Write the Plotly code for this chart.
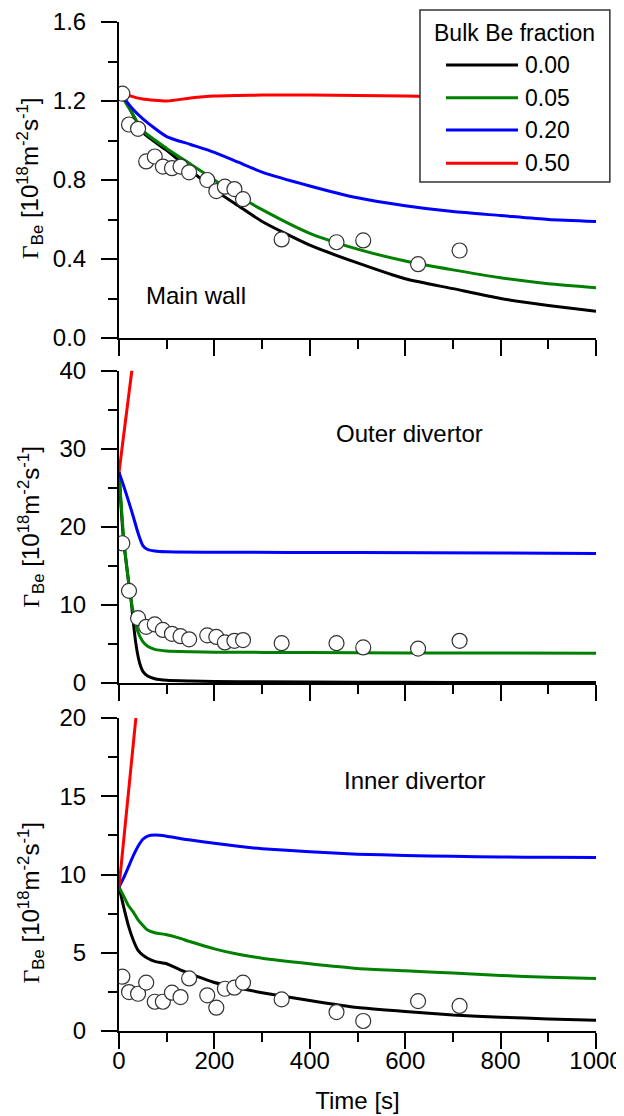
import plotly.graph_objects as go

# ---------------- data ----------------
fractions = ["0.00", "0.05", "0.20", "0.50"]
colors = ["#000000", "#008000", "#0000ff", "#ff0000"]

# Experimental points (time in s)
t_exp = [7, 21, 40, 57, 75, 92, 111, 129, 147, 185, 204, 222, 242, 260, 341, 456, 512, 627, 714]
mw_exp = [1.237, 1.081, 1.059, 0.894, 0.919, 0.868, 0.860, 0.868, 0.839, 0.80, 0.744, 0.766, 0.754, 0.703,
          0.499, 0.485, 0.494, 0.374, 0.443]
od_exp = [17.9, 11.8, 8.3, 7.2, 7.5, 6.8, 6.3, 6.0, 5.6, 6.1, 5.9, 5.2, 5.4, 5.5, 5.1, 5.1, 4.55, 4.4, 5.4]
id_exp = [3.47, 2.49, 2.38, 3.09, 1.87, 1.87, 2.45, 2.17, 3.36, 2.28, 1.49, 2.70, 2.77, 3.09, 2.02, 1.21,
          0.64, 1.91, 1.60]

# Main wall model curves
mw_t = [0, 25, 50, 100, 150, 200, 250, 300, 400, 500, 600, 700, 800, 900, 1000]
mw_000 = [1.25, 1.15, 1.04, 0.95, 0.85, 0.75, 0.67, 0.59, 0.47, 0.38, 0.30, 0.25, 0.20, 0.165, 0.135]
mw_005 = [1.25, 1.15, 1.05, 0.96, 0.88, 0.80, 0.72, 0.65, 0.53, 0.45, 0.39, 0.345, 0.305, 0.275, 0.255]
mw_020 = [1.25, 1.17, 1.11, 1.02, 0.98, 0.94, 0.89, 0.84, 0.77, 0.71, 0.67, 0.64, 0.62, 0.60, 0.59]
mw_050 = [1.25, 1.225, 1.21, 1.20, 1.215, 1.225, 1.228, 1.23, 1.23, 1.228, 1.225, 1.222, 1.222, 1.222, 1.222]

# Outer divertor model curves
od_t0 = [0, 5, 10, 15, 20, 25, 30, 35, 40, 45, 50, 60, 75, 100, 150, 200, 300, 500, 700, 1000]
od_000 = [27, 22, 17.9, 15.5, 13, 10.8, 7.8, 5.2, 3.4, 2.2, 1.5, 0.9, 0.55, 0.35, 0.25, 0.2, 0.15, 0.1, 0.07, 0.05]
od_t1 = [0, 10, 20, 30, 40, 50, 60, 75, 100, 150, 200, 400, 600, 800, 1000]
od_005 = [27, 18.5, 13, 9, 6.5, 5.3, 4.7, 4.3, 4.1, 4.0, 3.95, 3.9, 3.85, 3.85, 3.8]
od_t2 = [0, 10, 20, 30, 40, 50, 60, 75, 100, 200, 500, 800, 1000]
od_020 = [27, 25.2, 23.3, 21.3, 19.2, 17.6, 17.1, 16.9, 16.8, 16.75, 16.7, 16.65, 16.6]
od_t3 = [0, 30]
od_050 = [27, 41.5]

# Inner divertor model curves
id_t = [0, 10, 20, 30, 40, 50, 60, 75, 100, 125, 150, 200, 250, 300, 400, 500, 600, 700, 800, 900, 1000]
id_000 = [9.2, 7.9, 6.7, 5.8, 5.15, 4.85, 4.65, 4.45, 4.3, 3.95, 3.65, 3.1, 2.75, 2.45, 1.95, 1.5, 1.25, 1.02,
          0.88, 0.77, 0.68]
id_005 = [9.2, 8.6, 8.0, 7.6, 7.1, 6.75, 6.45, 6.28, 6.15, 5.95, 5.7, 5.25, 4.9, 4.65, 4.3, 4.0, 3.85, 3.7,
          3.55, 3.43, 3.35]
id_020 = [9.2, 9.8, 10.5, 11.2, 11.8, 12.25, 12.45, 12.52, 12.45, 12.32, 12.2, 12.0, 11.8, 11.65, 11.45, 11.3,
          11.22, 11.16, 11.12, 11.1, 11.08]
id_t3 = [0, 40]
id_050 = [9.2, 21.4]

panel_labels = ["Main wall", "Outer divertor", "Inner divertor"]
y_title = "<span style='font-family:Liberation Serif'>Γ</span><sub>Be</sub> [10<sup>18</sup>m<sup>-2</sup>s<sup>-1</sup>]"

# ---------------- figure ----------------
FONT = "Liberation Sans, Arial, sans-serif"
FS = 24
fig = go.Figure()

panels = [
    ("x", "y", [(mw_t, mw_000), (mw_t, mw_005), (mw_t, mw_020), (mw_t, mw_050)], mw_exp),
    ("x2", "y2", [(od_t0, od_000), (od_t1, od_005), (od_t2, od_020), (od_t3, od_050)], od_exp),
    ("x3", "y3", [(id_t, id_000), (id_t, id_005), (id_t, id_020), (id_t3, id_050)], id_exp),
]

for xa, ya, curves, exp in panels:
    for (tt, vv), c, name in zip(curves, colors, fractions):
        fig.add_trace(go.Scatter(x=tt, y=vv, mode="lines", xaxis=xa, yaxis=ya, name=name,
                                 showlegend=False,
                                 line=dict(color=c, width=3, shape="spline", smoothing=0.6)))
    fig.add_trace(go.Scatter(x=t_exp, y=exp, mode="markers", xaxis=xa, yaxis=ya, showlegend=False,
                             marker=dict(symbol="circle", size=15, color="white",
                                         line=dict(color="#333333", width=1.2))))

domains = [[0.6868, 1.0], [0.3449, 0.6544], [0.0, 0.3102]]
yranges = [[0, 1.6], [0, 40], [0, 20]]
ydt = [0.4, 10, 5]
yfmt = [".1f", "d", "d"]

common_tick = dict(tickcolor="black", tickwidth=2, ticklen=16, linecolor="black", linewidth=2,
                   showgrid=False, zeroline=False, automargin=False,
                   tickfont=dict(family=FONT, size=FS, color="black"))

# the page body adds an 8 px offset; the figure is sized so the plot lands where the reference has it
layout = dict(
    width=616, height=1108,
    margin=dict(l=111, r=28, t=14, b=85, autoexpand=False),
    paper_bgcolor="white", plot_bgcolor="white",
    font=dict(family=FONT, size=FS, color="black"),
    showlegend=False,
)

for i in range(3):
    sfx = "" if i == 0 else str(i + 1)
    ysfx = str(i + 1) if i > 0 else ""
    xlab = dict(
        domain=[0, 1], range=[0, 1000], anchor="y" + ysfx,
        showline=True, ticks="outside", tickvals=list(range(0, 1001, 200)),
        showticklabels=(i == 2), ticklabelstandoff=-9,
        minor=dict(dtick=100, ticklen=9, tickwidth=2, tickcolor="black", ticks="outside", showgrid=False),
        **common_tick,
    )
    if i == 2:
        xlab["title"] = dict(text="Time [s]", standoff=19, font=dict(family=FONT, size=FS))
    else:
        xlab["matches"] = "x3"
    layout["xaxis" + sfx] = xlab
    layout["yaxis" + ysfx] = dict(
        domain=domains[i], range=yranges[i], anchor="x" + sfx,
        showline=True, ticks="outside", dtick=ydt[i], tick0=0, tickformat=yfmt[i],
        ticklabelstandoff=10,
        minor=dict(dtick=ydt[i] / 2, ticklen=9, tickwidth=2, tickcolor="black", ticks="outside", showgrid=False),
        **common_tick,
    )
    # mirrored axes with inside ticks (top and right)
    layout["xaxis" + str(i + 4)] = dict(
        overlaying="x" + sfx, side="top", anchor="y" + ysfx, range=[0, 1000],
        showline=True, ticks="inside", tickvals=list(range(0, 1001, 200)), showticklabels=False,
        minor=dict(dtick=100, ticklen=9, tickwidth=2, tickcolor="black", ticks="inside", showgrid=False),
        **common_tick,
    )
    layout["yaxis" + str(i + 4)] = dict(
        overlaying="y" + ysfx, side="right", anchor="x" + sfx, range=yranges[i],
        showline=True, ticks="inside", dtick=ydt[i], tick0=0, showticklabels=False,
        minor=dict(dtick=ydt[i] / 2, ticklen=9, tickwidth=2, tickcolor="black", ticks="inside", showgrid=False),
        **common_tick,
    )

fig.update_layout(**layout)

# y-axis titles
ytitle_pos = [0.845, 0.4995, 0.127]
ann = []
for yp in ytitle_pos:
    ann.append(dict(xref="paper", yref="paper", x=-0.185, y=yp, text=y_title, textangle=-90,
                    showarrow=False, xanchor="center", yanchor="middle",
                    font=dict(family=FONT, size=24, color="black")))

# panel labels (in data coords)
ann.append(dict(xref="x", yref="y", x=161, y=0.214, text=panel_labels[0], showarrow=False,
                font=dict(family=FONT, size=FS, color="black")))
ann.append(dict(xref="x2", yref="y2", x=610, y=32, text=panel_labels[1], showarrow=False,
                font=dict(family=FONT, size=FS, color="black")))
ann.append(dict(xref="x3", yref="y3", x=620, y=16, text=panel_labels[2], showarrow=False,
                font=dict(family=FONT, size=FS, color="black")))

# manual legend
shapes = [dict(type="rect", xref="paper", yref="paper", x0=0.631, x1=1.029, y0=0.8414, y1=1.0119,
               fillcolor="white", line=dict(color="#333333", width=1.5), layer="above")]
ann.append(dict(xref="paper", yref="paper", x=0.829, y=0.989, text="Bulk Be fraction", showarrow=False,
                xanchor="center", yanchor="middle", font=dict(family=FONT, size=23, color="black")))
rows = [0.9574, 0.925, 0.893, 0.860]
for yr, c, name in zip(rows, colors, fractions):
    shapes.append(dict(type="line", xref="paper", yref="paper", x0=0.6855, x1=0.8365, y0=yr, y1=yr,
                       line=dict(color=c, width=3), layer="above"))
    ann.append(dict(xref="paper", yref="paper", x=0.847, y=yr, text=name, showarrow=False,
                    xanchor="left", yanchor="middle", font=dict(family=FONT, size=23, color="black")))

fig.update_layout(annotations=ann, shapes=shapes)
fig.write_html("out.html")
